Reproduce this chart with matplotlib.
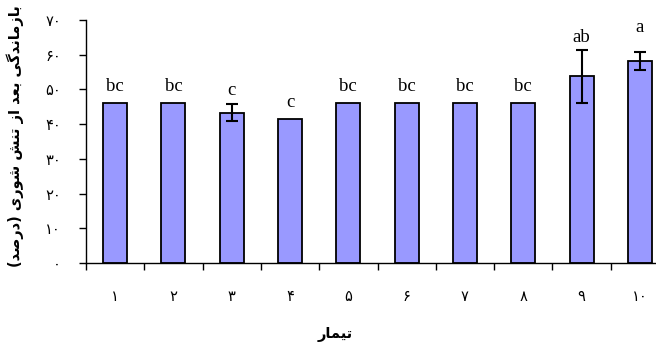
import matplotlib
matplotlib.use("Agg")
import matplotlib.pyplot as plt
import numpy as np

treatments = ['۱', '۲', '۳', '۴', '۵', '۶', '۷', '۸', '۹', '۱۰']
survival = [46, 46, 43.3, 41.6, 46, 46, 46, 46, 53.8, 58.3]
errors = [0, 0, 2.4, 0, 0, 0, 0, 0, 7.7, 2.6]
letters = ['bc', 'bc', 'c', 'c', 'bc', 'bc', 'bc', 'bc', 'ab', 'a']
yticks = [0, 10, 20, 30, 40, 50, 60, 70]
ytick_labels = ['۰', '۱۰', '۲۰', '۳۰', '۴۰', '۵۰', '۶۰', '۷۰']
ylabel = 'بازماندگی بعد از تنش شوری (درصد)'
xlabel = 'تیمار'

# gap above bar/errorbar for the letters (data units), set by hand
label_pad = [3.6, 3.6, 2.7, 3.4, 3.6, 3.6, 3.6, 3.6, 2.2, 5.7]

# matplotlib has no arabic shaping, so do it by hand
FORMS = {
    'ا': ('\uFE8D', '\uFE8E', None, None),
    'ب': ('\uFE8F', '\uFE90', '\uFE91', '\uFE92'),
    'ت': ('\uFE95', '\uFE96', '\uFE97', '\uFE98'),
    'د': ('\uFEA9', '\uFEAA', None, None),
    'ر': ('\uFEAD', '\uFEAE', None, None),
    'ز': ('\uFEAF', '\uFEB0', None, None),
    'ش': ('\uFEB5', '\uFEB6', '\uFEB7', '\uFEB8'),
    'ص': ('\uFEB9', '\uFEBA', '\uFEBB', '\uFEBC'),
    'ع': ('\uFEC9', '\uFECA', '\uFECB', '\uFECC'),
    'م': ('\uFEE1', '\uFEE2', '\uFEE3', '\uFEE4'),
    'ن': ('\uFEE5', '\uFEE6', '\uFEE7', '\uFEE8'),
    'و': ('\uFEED', '\uFEEE', None, None),
    'ی': ('\uFBFC', '\uFBFD', '\uFBFE', '\uFBFF'),
    'گ': ('\uFB92', '\uFB93', '\uFB94', '\uFB95'),
}


def shape(text):
    out = []
    for i, ch in enumerate(text):
        if ch not in FORMS:
            out.append(ch)
            continue
        prev = text[i - 1] if i > 0 else None
        nxt = text[i + 1] if i + 1 < len(text) else None
        join_prev = prev in FORMS and FORMS[prev][2] is not None
        join_next = nxt in FORMS and FORMS[ch][2] is not None
        iso, fin, ini, med = FORMS[ch]
        if join_prev and join_next:
            out.append(med)
        elif join_prev:
            out.append(fin)
        elif join_next:
            out.append(ini)
        else:
            out.append(iso)
    vis = ''.join(reversed(out))
    return vis.translate(str.maketrans('()', ')('))


fig = plt.figure(figsize=(6.56, 3.47), dpi=100)
ax = fig.add_axes([86 / 656, 1 - 263 / 347, 583 / 656, 243 / 347])

x = np.arange(len(survival))
ax.bar(x, survival, width=0.41, color='#9999FF', edgecolor='black', linewidth=1.3, zorder=2)
err_idx = [i for i, e in enumerate(errors) if e > 0]
ax.errorbar([x[i] for i in err_idx], [survival[i] for i in err_idx],
            yerr=[errors[i] for i in err_idx], fmt='none', ecolor='black',
            elinewidth=1.5, capsize=4, capthick=1.5, zorder=3)

for i, (v, e, l) in enumerate(zip(survival, errors, letters)):
    ax.text(x[i], v + e + label_pad[i], l, ha='center', va='baseline',
            fontsize=13.5, family='Liberation Serif')

ax.set_xlim(-0.5, len(survival) - 0.5)
ax.set_ylim(0, 70)
ax.set_yticks(yticks)
ax.set_yticklabels(ytick_labels, family='DejaVu Sans', fontsize=10.5)
ax.tick_params(axis='y', direction='out', length=5, width=1, pad=13)

ax.set_xticks(np.arange(len(survival) + 1) - 0.5)
ax.set_xticklabels([])
ax.tick_params(axis='x', which='major', direction='out', length=5, width=1)
ax.set_xticks(x, minor=True)
ax.set_xticklabels(treatments, minor=True, family='DejaVu Sans', fontsize=10.5)
ax.tick_params(axis='x', which='minor', length=0, pad=19)

for s in ['top', 'right']:
    ax.spines[s].set_visible(False)
for s in ['left', 'bottom']:
    ax.spines[s].set_linewidth(1)

fig.text(15 / 656, 1 - 136 / 347, shape(ylabel), rotation=90, ha='center', va='center',
         fontsize=10.5, fontweight='bold', family='DejaVu Sans')
fig.text(335 / 656, 1 - 335 / 347, shape(xlabel), ha='center', va='center',
         fontsize=10.5, fontweight='bold', family='DejaVu Sans')

fig.savefig('out.png', dpi=100)
